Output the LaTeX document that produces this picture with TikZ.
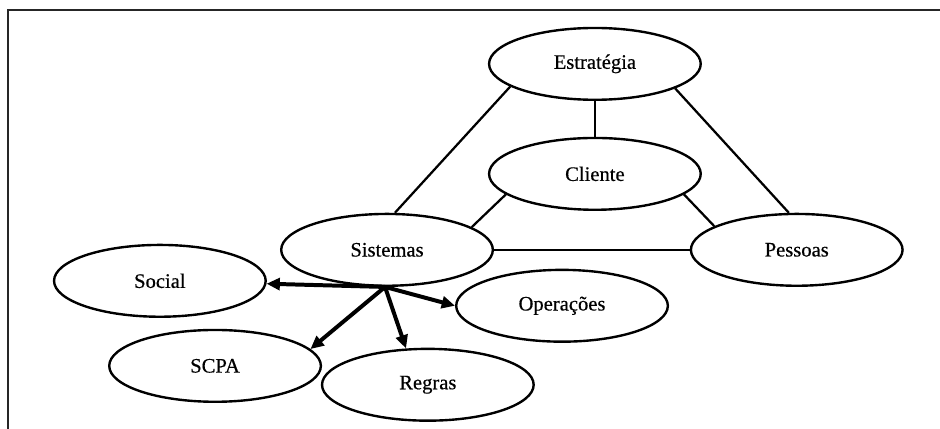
\documentclass[tikz,border=0pt]{standalone}
\usepackage{fontspec}
\setmainfont{Liberation Serif}
\newfontfamily\lblfont{Liberation Serif}[FakeBold=0.5]
\usetikzlibrary{shapes.geometric,arrows.meta,positioning}

\begin{document}
\begin{tikzpicture}[on grid,font=\lblfont\fontsize{15.5}{18}\selectfont,
  elp/.style={ellipse,draw,line width=1.8pt,minimum width=5.6cm,minimum height=1.9cm,inner sep=0pt},
  lnk/.style={line width=1.7pt},
  arr/.style={-{Triangle[length=10pt,width=9pt]},line width=3pt}]
\useasboundingbox (-15.74,1.69) rectangle (9.13,-9.66);
% frame
\coordinate (fbl) at (-15.53,-9.66);
\coordinate (ftl) at (-15.53,1.43);
\coordinate (ftr) at (9.13,1.43);
\draw[line width=1.4pt,black!85] (fbl) -- (ftl) -- (ftr);
% ellipses
\node[elp] (est) at (0,0) {Estratégia};
\node[elp,below=2.91cm of est] (cli) {Cliente};
\node[elp,below left=2.01cm and 5.5cm of cli] (sis) {Sistemas};
\node[elp,below right=2.01cm and 5.34cm of cli] (pes) {Pessoas};
\node[elp,below left=0.82cm and 6.01cm of sis] (soc) {Social};
\node[elp,below left=3.07cm and 4.55cm of sis] (scpa) {SCPA};
\node[elp,below right=3.57cm and 1.08cm of sis] (reg) {Regras};
\node[elp,below right=1.48cm and 4.63cm of sis] (ope) {Operações};
% links
\draw[lnk] (est.south) -- (cli.north);
\draw[lnk] (est.195) -- (sis.78);
\draw[lnk] (est.343) -- (pes.102);
\draw[lnk] (cli.193) -- (sis.15);
\draw[lnk] (cli.347) -- (pes.164);
\draw[lnk] (sis.east) -- (pes.west);
% arrows out of Sistemas
\coordinate (hub) at ([xshift=-1.5pt]sis.south);
\draw[arr] (hub) -- (soc);
\draw[arr] (hub) -- (scpa.10);
\draw[arr] (hub) -- (reg.121);
\draw[arr] (hub) -- (ope.west);
\end{tikzpicture}
\end{document}
